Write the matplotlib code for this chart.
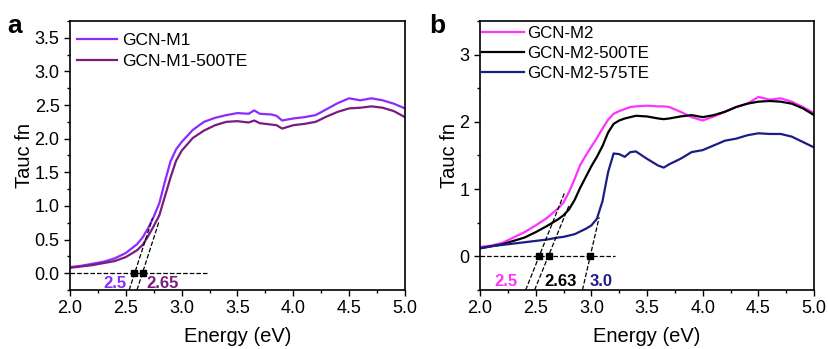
import matplotlib
matplotlib.use("Agg")
import matplotlib.pyplot as plt
from matplotlib.ticker import MultipleLocator

plt.rcParams['font.family'] = ['Liberation Sans', 'DejaVu Sans']

# ---- panel a data ----
xa = [2.0, 2.1, 2.2, 2.3, 2.4, 2.5, 2.6, 2.65, 2.7, 2.75, 2.8, 2.85, 2.9, 2.95, 3.0,
      3.1, 3.2, 3.3, 3.4, 3.5, 3.6, 3.65, 3.7, 3.8, 3.85, 3.9, 4.0, 4.1, 4.2, 4.3,
      4.4, 4.5, 4.6, 4.7, 4.8, 4.9, 5.0]
m1 = [0.09, 0.11, 0.14, 0.17, 0.22, 0.30, 0.43, 0.53, 0.67, 0.84, 1.04, 1.36, 1.66, 1.84, 1.95,
      2.13, 2.25, 2.31, 2.35, 2.38, 2.37, 2.42, 2.37, 2.36, 2.34, 2.27, 2.30, 2.32, 2.35, 2.44,
      2.53, 2.60, 2.57, 2.60, 2.57, 2.52, 2.45]
m1_500 = [0.08, 0.10, 0.12, 0.15, 0.18, 0.24, 0.34, 0.42, 0.55, 0.70, 0.86, 1.14, 1.42, 1.67, 1.82,
          2.01, 2.12, 2.20, 2.25, 2.26, 2.24, 2.27, 2.23, 2.21, 2.20, 2.15, 2.20, 2.22, 2.25, 2.33,
          2.40, 2.45, 2.46, 2.48, 2.46, 2.41, 2.32]

# tangents panel a: (x_bottom, y_bottom, x_top, y_top)
tan_a = [(2.53, -0.25, 2.74, 0.82), (2.60, -0.25, 2.80, 0.78)]
gap_a = [2.575, 2.65]
lab_a = ["2.5", "2.65"]

# ---- panel b data ----
xb = [2.0, 2.1, 2.2, 2.3, 2.4, 2.5, 2.6, 2.7, 2.75, 2.8, 2.85, 2.9, 2.95, 3.0, 3.05,
      3.1, 3.15, 3.2, 3.25, 3.3, 3.35, 3.4, 3.5, 3.6, 3.65, 3.7, 3.8, 3.9, 4.0, 4.1,
      4.2, 4.3, 4.4, 4.5, 4.6, 4.7, 4.8, 4.9, 5.0]
m2 = [0.14, 0.16, 0.20, 0.28, 0.36, 0.46, 0.57, 0.71, 0.80, 0.96, 1.15, 1.36, 1.50, 1.63, 1.76,
      1.90, 2.03, 2.12, 2.16, 2.19, 2.22, 2.23, 2.24, 2.23, 2.23, 2.22, 2.15, 2.07, 2.02, 2.08,
      2.15, 2.22, 2.27, 2.37, 2.33, 2.35, 2.30, 2.22, 2.13]
m2_500 = [0.12, 0.15, 0.18, 0.23, 0.28, 0.36, 0.45, 0.55, 0.61, 0.70, 0.84, 1.02, 1.18, 1.34, 1.48,
          1.64, 1.84, 1.97, 2.02, 2.05, 2.07, 2.09, 2.08, 2.05, 2.04, 2.05, 2.08, 2.10, 2.07, 2.10,
          2.15, 2.22, 2.27, 2.30, 2.31, 2.30, 2.27, 2.20, 2.10]
m2_575 = [0.12, 0.15, 0.17, 0.19, 0.21, 0.23, 0.25, 0.28, 0.29, 0.31, 0.33, 0.37, 0.41, 0.46, 0.56,
          0.82, 1.25, 1.53, 1.52, 1.48, 1.55, 1.56, 1.45, 1.35, 1.32, 1.37, 1.45, 1.55, 1.58, 1.65,
          1.72, 1.75, 1.80, 1.83, 1.82, 1.82, 1.78, 1.70, 1.62]

tan_b = [(2.41, -0.5, 2.76, 0.95), (2.49, -0.5, 2.80, 0.76), (2.92, -0.5, 3.07, 0.58)]
gap_b = [2.53, 2.62, 2.99]
lab_b = ["2.5", "2.63", "3.0"]

c_m1 = "#8B2BFF"
c_m1_500 = "#7B1B7E"
c_m2 = "#FF33FF"
c_m2_500 = "#000000"
c_m2_575 = "#1C1C85"

fig = plt.figure(figsize=(8.29, 3.49), dpi=100)
axa = fig.add_axes([0.0844, 0.169, 0.4041, 0.771])
axb = fig.add_axes([0.579, 0.169, 0.403, 0.771])

def style(ax, ylim, ymaj, ymin):
    ax.set_xlim(2.0, 5.0)
    ax.set_ylim(*ylim)
    ax.xaxis.set_major_locator(MultipleLocator(0.5))
    ax.xaxis.set_minor_locator(MultipleLocator(0.25))
    ax.yaxis.set_major_locator(MultipleLocator(ymaj))
    ax.yaxis.set_minor_locator(MultipleLocator(ymin))
    ax.tick_params(which='major', direction='out', length=4, width=1, labelsize=13)
    ax.tick_params(which='minor', direction='out', length=2.5, width=1)
    for s in ax.spines.values():
        s.set_linewidth(1.2)
    ax.set_xlabel("Energy (eV)", fontsize=14.5, labelpad=7)
    ax.set_ylabel("Tauc fn", fontsize=14.5, labelpad=0)

# panel a
axa.plot(xa, m1, color=c_m1, lw=1.6, label="GCN-M1")
axa.plot(xa, m1_500, color=c_m1_500, lw=1.6, label="GCN-M1-500TE")
axa.plot([2.0, 3.23], [0, 0], 'k--', lw=0.9)
for x0, y0, x1, y1 in tan_a:
    axa.plot([x0, x1], [y0, y1], 'k--', lw=0.9)
axa.plot(gap_a, [0] * len(gap_a), 'ks', ms=4.5)
axa.text(2.40, -0.15, lab_a[0], color=c_m1, fontsize=12, fontweight='bold', ha='center', va='center')
axa.text(2.83, -0.15, lab_a[1], color=c_m1_500, fontsize=12, fontweight='bold', ha='center', va='center')
style(axa, (-0.25, 3.75), 0.5, 0.25)
axa.legend(loc='upper left', bbox_to_anchor=(0.021, 0.955), frameon=False, fontsize=12.5,
           handlelength=2.3, borderaxespad=0, borderpad=0, labelspacing=0.35, handletextpad=0.3)

# panel b
axb.plot(xb, m2, color=c_m2, lw=1.6, label="GCN-M2")
axb.plot(xb, m2_500, color=c_m2_500, lw=1.6, label="GCN-M2-500TE")
axb.plot(xb, m2_575, color=c_m2_575, lw=1.6, label="GCN-M2-575TE")
axb.plot([2.0, 3.21], [0, 0], 'k--', lw=0.9)
for x0, y0, x1, y1 in tan_b:
    axb.plot([x0, x1], [y0, y1], 'k--', lw=0.9)
axb.plot(gap_b, [0] * len(gap_b), 'ks', ms=4.5)
for xt, t, c in zip([2.23, 2.72, 3.09], lab_b, [c_m2, c_m2_500, c_m2_575]):
    axb.text(xt, -0.37, t, color=c, fontsize=12, fontweight='bold', ha='center', va='center')
style(axb, (-0.5, 3.5), 1, 0.5)
axb.legend(loc='upper left', bbox_to_anchor=(0.006, 0.982), frameon=False, fontsize=12.2,
           handlelength=2.5, borderaxespad=0, borderpad=0, labelspacing=0.3, handletextpad=0.15)

fig.text(0.009, 0.905, "a", fontsize=19, fontweight='bold', va='baseline')
fig.text(0.518, 0.905, "b", fontsize=19, fontweight='bold', va='baseline')

fig.savefig("out.png", dpi=100)
